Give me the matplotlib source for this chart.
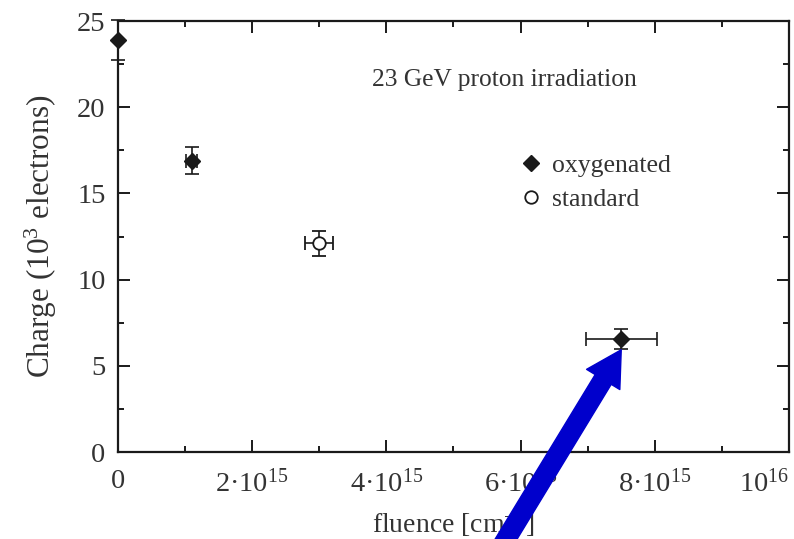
import matplotlib
matplotlib.use("Agg")
from matplotlib import pyplot as plt

# fluence [cm^-2] and collected charge [10^3 electrons]
oxy_fluence = [0.0, 1.1e15, 7.5e15]
oxy_charge = [23.9, 16.9, 6.55]
oxy_xerr = [0.0, 0.08e15, 0.53e15]
oxy_yerr = [1.15, 0.8, 0.57]

std_fluence = [3.0e15]
std_charge = [12.1]
std_xerr = [0.21e15]
std_yerr = [0.72]

xticks = [0, 2e15, 4e15, 6e15, 8e15, 1e16]
xtick_labels = ["0", r"2·10$^{15}$", r"4·10$^{15}$", r"6·10$^{15}$",
                r"8·10$^{15}$", r"10$^{16}$"]
yticks = [0, 5, 10, 15, 20, 25]

plt.rcParams["font.family"] = ["Liberation Serif", "DejaVu Serif"]
plt.rcParams["mathtext.fontset"] = "custom"
plt.rcParams["mathtext.rm"] = "Liberation Serif"
plt.rcParams["mathtext.it"] = "Liberation Serif:italic"
plt.rcParams["mathtext.bf"] = "Liberation Serif:bold"

text_col = "#333333"
ink = "#1a1a1a"

fig = plt.figure(figsize=(7.94, 5.39), dpi=100)
ax = fig.add_axes([0.1486, 0.1614, 0.9937 - 0.1486, 0.961 - 0.1614])

ax.errorbar(oxy_fluence, oxy_charge, xerr=oxy_xerr, yerr=oxy_yerr,
            fmt="D", color=ink, markersize=8, capsize=5, elinewidth=1.2,
            capthick=1.2, clip_on=False, zorder=3, label="oxygenated")
ax.errorbar(std_fluence, std_charge, xerr=std_xerr, yerr=std_yerr,
            fmt="o", color=ink, mfc="white", mec=ink, mew=1.3, markersize=9,
            capsize=5, elinewidth=1.2, capthick=1.2, clip_on=False, zorder=3,
            label="standard")

ax.set_xlim(0, 1e16)
ax.set_ylim(0, 25)
ax.set_xticks(xticks)
ax.set_xticklabels(xtick_labels)
ax.get_xticklabels()[-1].set_ha("right")
ax.set_xticks([1e15, 3e15, 5e15, 7e15, 9e15], minor=True)
ax.set_yticks(yticks)
ax.set_yticks([2.5, 7.5, 12.5, 17.5, 22.5], minor=True)

ax.tick_params(which="both", direction="in", top=True, right=True,
               width=1.4, color=ink, labelsize=20.5, labelcolor=text_col)
ax.tick_params(which="major", length=8.5)
ax.tick_params(which="minor", length=4.5)
ax.tick_params(axis="x", which="major", pad=12)
ax.tick_params(axis="y", which="major", pad=9)
for s in ax.spines.values():
    s.set_linewidth(1.6)
    s.set_color(ink)

ax.set_ylabel(r"Charge (10$^3$ electrons)", fontsize=22.5, color=text_col,
              labelpad=13)
ax.set_xlabel(r"fluence [cm$^{-2}$]", fontsize=20, color=text_col,
              labelpad=8)

ax.text(0.379, 0.864, "23 GeV proton irradiation", transform=ax.transAxes,
        ha="left", va="center", fontsize=18.4, color=text_col)

handles, labels = ax.get_legend_handles_labels()
handles = [h[0] for h in handles]
ax.legend(handles, labels, loc="upper left", bbox_to_anchor=(0.597, 0.692),
          frameon=False, borderaxespad=0, borderpad=0, handlelength=1.0,
          handletextpad=0.3, labelspacing=0.45, fontsize=18.5,
          labelcolor=text_col)

# blue arrow pointing at the highest-fluence point
ax.annotate("", xy=(oxy_fluence[-1], oxy_charge[-1] - oxy_yerr[-1] - 0.05),
            xycoords="data", xytext=(494, -20), textcoords="figure pixels",
            annotation_clip=False,
            arrowprops=dict(width=13.5, headwidth=28, headlength=25,
                            color="#0000CC", shrink=0))

fig.savefig("out.png", dpi=100)
